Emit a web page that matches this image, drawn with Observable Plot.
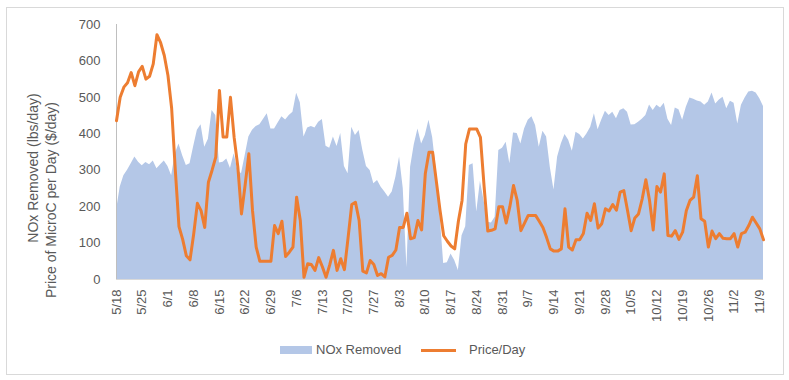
<!DOCTYPE html>
<html>
<head>
<meta charset="utf-8">
<script src="https://cdn.jsdelivr.net/npm/d3@7"></script>
<script src="https://cdn.jsdelivr.net/npm/@observablehq/plot@0.6"></script>
<style>
  body { margin: 0; background: #fff; font-family: "Liberation Sans", Arial, sans-serif; }
  #wrap { position: relative; width: 789px; height: 380px; }
  #border { position: absolute; left: 6px; top: 7px; width: 776px; height: 366px; border: 1px solid #d9d9d9; pointer-events: none; }
  .lg { position: absolute; font-size: 13px; color: #595959; line-height: 16px; }
</style>
</head>
<body>
<div id="wrap">
  <div id="chart"></div>
  <div id="border"></div>
  <div class="lg" style="left:280px;top:346px;width:32px;height:8px;background:#b4c7e7"></div>
  <div class="lg" id="lg1" style="left:316px;top:342px;"></div>
  <div class="lg" style="left:421px;top:349px;width:35px;height:3px;background:#ed7d31"></div>
  <div class="lg" id="lg2" style="left:469px;top:342px;"></div>
</div>
<script>
const tickLabels = ["5/18","5/25","6/1","6/8","6/15","6/22","6/29","7/6","7/13","7/20","7/27","8/3","8/10","8/17","8/24","8/31","9/7","9/14","9/21","9/28","10/5","10/12","10/19","10/26","11/2","11/9"];
const yTicks = [0,100,200,300,400,500,600,700];
const seriesNames = ["NOx Removed", "Price/Day"];
const yTitle1 = "NOx Removed (lbs/day)";
const yTitle2 = "Price of MicroC per Day ($/day)";

const noxRemoved = [
  189,253,285,300,318,336,322,312,321,315,
  325,304,315,325,310,285,345,372,340,313,
  318,365,410,425,363,385,464,450,320,322,
  331,305,345,300,290,340,391,410,420,425,
  440,455,413,413,430,447,438,450,459,511,
  485,391,416,420,416,432,439,366,360,391,
  365,401,310,290,418,395,409,355,310,299,
  263,272,253,240,226,240,281,336,250,32,
  308,370,413,372,395,437,390,300,180,44,
  46,70,52,25,120,145,313,318,185,270,
  215,157,155,171,354,360,377,318,402,401,
  372,413,437,447,423,363,407,391,308,246,
  336,372,398,382,352,404,398,386,400,418,
  455,411,438,462,450,459,441,464,469,459,
  424,425,432,440,450,479,464,478,471,484,
  440,423,471,466,437,473,498,495,490,487,
  478,487,512,482,493,500,469,489,484,427,
  478,498,515,517,512,496,475
];
const pricePerDay = [
  436,500,528,540,568,532,570,585,550,558,
  592,672,650,615,560,470,300,145,110,65,
  54,125,209,189,143,267,300,336,519,391,
  391,500,390,310,180,260,345,189,89,50,
  50,50,50,148,126,160,63,75,89,226,
  162,6,43,41,25,60,35,6,40,80,
  25,57,27,115,206,212,162,23,18,52,
  41,11,16,7,61,66,81,143,143,182,
  112,115,162,136,290,349,349,270,190,120,
  105,92,84,160,217,372,413,413,413,390,
  255,133,135,139,200,200,155,200,258,217,
  134,155,176,176,176,160,143,115,84,78,
  78,84,194,89,81,109,109,126,182,162,
  208,141,153,194,188,206,190,240,244,190,
  134,169,180,221,274,217,136,255,240,290,
  121,119,134,110,130,189,217,226,285,167,
  160,89,133,112,126,113,112,112,126,89,
  126,130,148,171,155,139,109
];

const data = noxRemoved.map((v, i) => ({day: i, nox: v, price: pricePerDay[i]}));
const xTicks = tickLabels.map((_, i) => i * 7);
const grey = "#595959";

const chart = Plot.plot({
  width: 789,
  height: 380,
  marginLeft: 116,
  marginRight: 26,
  marginTop: 24,
  marginBottom: 101,
  style: {fontFamily: "Liberation Sans, Arial, sans-serif", background: "transparent", overflow: "visible"},
  x: {type: "linear", domain: [0, noxRemoved.length - 1]},
  y: {domain: [0, 700]},
  marks: [
    Plot.areaY(data, {x: "day", y: "nox", fill: "#b4c7e7", curve: "linear"}),
    Plot.ruleY([0], {stroke: "#d9d9d9", strokeWidth: 1}),
    Plot.ruleX([0], {y1: 0, y2: 700, stroke: "#bfbfbf", strokeWidth: 1}),
    Plot.lineY(data, {x: "day", y: "price", stroke: "#ed7d31", strokeWidth: 3, strokeLinejoin: "round", strokeLinecap: "round"}),
    Plot.axisY({ticks: yTicks, tickSize: 0, tickPadding: 16, fontSize: 13, fill: grey, label: null}),
    Plot.axisX({ticks: xTicks, tickFormat: d => tickLabels[d / 7], tickRotate: -90, tickSize: 0, tickPadding: 10, fontSize: 13, fill: grey, label: null}),
    Plot.text([yTitle1], {text: d => d, frameAnchor: "left", textAnchor: "middle", rotate: -90, dx: -83, dy: 16, fontSize: 14, fill: grey}),
    Plot.text([yTitle2], {text: d => d, frameAnchor: "left", textAnchor: "middle", rotate: -90, dx: -65, dy: 48, fontSize: 14, fill: grey})
  ]
});
document.getElementById("chart").appendChild(chart);
document.getElementById("lg1").textContent = seriesNames[0];
document.getElementById("lg2").textContent = seriesNames[1];
</script>
</body>
</html>
